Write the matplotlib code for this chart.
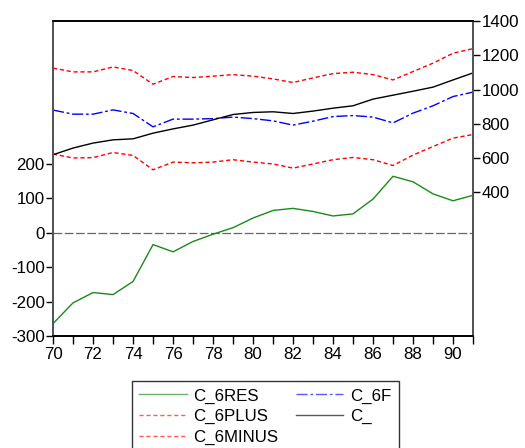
import matplotlib.pyplot as plt
import numpy as np

plt.rcParams['font.family'] = ['Liberation Sans', 'DejaVu Sans']
plt.rcParams['axes.unicode_minus'] = False

years = np.arange(70, 92)

# residuals (left axis)
c_6res = [-264, -204, -174, -180, -142, -35, -56, -26, -5, 14, 42,
          64, 70, 61, 48, 54, 97, 163, 147, 112, 92, 108]
# actual, fitted and bands (right axis)
c_ = [619, 658, 687, 706, 712, 745, 770, 792, 823, 854, 866,
      870, 860, 874, 891, 905, 944, 967, 990, 1014, 1056, 1097]
c_6f = [880, 856, 856, 881, 860, 782, 827, 827, 830, 839, 830,
        817, 792, 815, 842, 848, 839, 805, 862, 905, 959, 985]
c_6plus = [1125, 1103, 1103, 1132, 1111, 1031, 1076, 1070, 1078, 1087, 1078,
           1062, 1041, 1068, 1093, 1101, 1087, 1056, 1105, 1154, 1212, 1239]
c_6minus = [623, 600, 602, 632, 615, 531, 576, 572, 576, 590, 576,
            565, 541, 565, 590, 603, 590, 556, 617, 667, 716, 737]

fig = plt.figure(figsize=(5.25, 4.48), dpi=100)
ax = fig.add_axes([0.101, 0.25, 0.800, 0.703])
ax2 = ax.twinx()

# right axis series
l_plus, = ax2.plot(years, c_6plus, color='red', ls=(0, (3, 2)), lw=1, label='C_6PLUS')
l_minus, = ax2.plot(years, c_6minus, color='red', ls=(0, (3, 2)), lw=1, label='C_6MINUS')
l_f, = ax2.plot(years, c_6f, color='blue', ls=(0, (8, 2, 2, 2)), lw=1, label='C_6F')
l_c, = ax2.plot(years, c_, color='black', lw=1, label='C_')

# left axis
ax.axhline(0, color='#666666', ls=(0, (7, 2)), lw=0.9)
l_res, = ax.plot(years, c_6res, color='#1a8a1a', lw=1, label='C_6RES')

ax.set_xlim(70, 91)
ax.set_ylim(-300, 613)
ax2.set_ylim(-440, 1400)

ax.set_xticks(np.arange(70, 92, 1), minor=True)
ax.set_xticks(np.arange(70, 91, 2))
ax.set_yticks([-300, -200, -100, 0, 100, 200])
ax2.set_yticks([400, 600, 800, 1000, 1200, 1400])

fs = 12.2
ax.tick_params(axis='x', which='both', direction='out', length=6, width=1,
               labelsize=fs, pad=2)
ax.tick_params(axis='y', direction='out', length=5, width=1, labelsize=fs, pad=1)
ax2.tick_params(axis='y', direction='out', length=5, width=1, labelsize=fs, pad=1)

for a in (ax, ax2):
    a.spines['left'].set_color('#555555')
    a.spines['right'].set_color('#555555')
    a.spines['left'].set_linewidth(1.4)
    a.spines['right'].set_linewidth(1.4)
    a.spines['top'].set_linewidth(1.2)
    a.spines['bottom'].set_linewidth(1.2)

handles = [l_res, l_plus, l_minus, l_f, l_c]
leg = fig.legend(handles, [h.get_label() for h in handles], ncol=2,
                 loc='upper left', bbox_to_anchor=(0.251, 0.150), borderaxespad=0,
                 fontsize=fs, frameon=True, fancybox=False, edgecolor='black',
                 handlelength=2.8, handletextpad=0.4, columnspacing=1.0,
                 labelspacing=0.32, borderpad=0.45)
leg.get_frame().set_linewidth(1)
for h in leg.legend_handles:
    h.set_alpha(0.65)

fig.savefig('out.png', dpi=100)
